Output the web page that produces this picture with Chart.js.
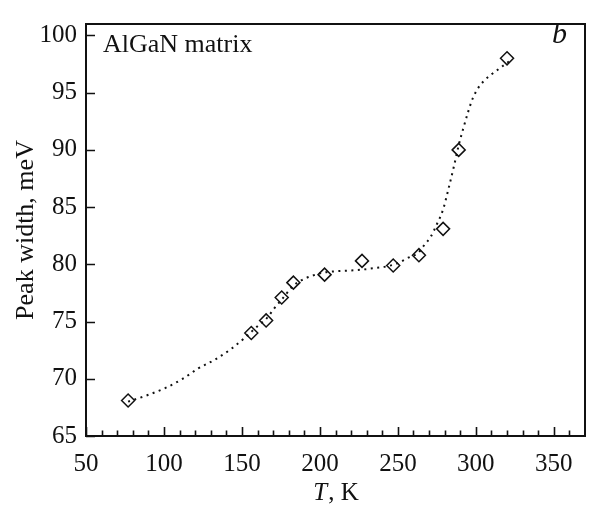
<!DOCTYPE html>
<html>
<head>
<meta charset="utf-8">
<script src="https://cdn.jsdelivr.net/npm/chart.js@4.4.1/dist/chart.umd.min.js"></script>
<style>
html,body{margin:0;padding:0;background:#fff;}
#wrap{width:593px;height:506px;position:relative;}
</style>
</head>
<body>
<div id="wrap"><canvas id="c" width="593" height="506"></canvas></div>
<script>
// Measured points (diamonds)
const tempK = [77, 156, 165.5, 175.5, 183, 203, 227, 247, 263.5, 279, 289, 320];
const peakWidth = [68.1, 74.0, 75.1, 77.1, 78.4, 79.1, 80.3, 79.9, 80.8, 83.1, 90.0, 98.0];
// Dotted guide curve
const curveT = [77, 90, 101, 112, 122, 133, 143, 152, 160, 166, 171, 176, 182, 188, 195, 203, 211, 224, 234, 242, 250, 257, 263, 267, 271, 275, 279, 283, 286, 289, 292, 295, 298, 301, 305, 310, 315, 319, 322];
const curveW = [68.0, 68.6, 69.2, 70.0, 70.9, 71.7, 72.6, 73.6, 74.6, 75.3, 76.2, 77.0, 78.0, 78.6, 79.0, 79.3, 79.4, 79.5, 79.65, 79.8, 80.1, 80.6, 81.0, 81.7, 82.4, 83.5, 84.8, 86.9, 88.6, 90.4, 91.9, 93.3, 94.5, 95.3, 96.0, 96.6, 97.1, 97.5, 97.8];
const xTicks = [50, 100, 150, 200, 250, 300, 350];
const xMinorTicks = [60,70,80,90,110,120,130,140,160,170,180,190,210,220,230,240,260,270,280,290,310,320,330,340,360];
const yTicks = [65, 70, 75, 80, 85, 90, 95, 100];
const xTitleItalic = 'T';
const xTitleRest = ', K';
const yTitle = 'Peak width, meV';
const innerLabel = 'AlGaN matrix';
const panelLabel = 'b';

const SERIF = '"Liberation Serif", "DejaVu Serif", serif';

const framePlugin = {
  id: 'framePlugin',
  afterDraw(chart) {
    const {ctx, chartArea: a, scales} = chart;
    const xs = scales.x, ys = scales.y;
    ctx.save();
    ctx.strokeStyle = '#111';
    ctx.lineWidth = 2;
    ctx.strokeRect(a.left, a.top, a.right - a.left, a.bottom - a.top);
    ctx.lineWidth = 1.6;
    ctx.beginPath();
    xTicks.forEach(v => {
      const px = Math.round(xs.getPixelForValue(v)) + 0.5;
      ctx.moveTo(px, a.bottom); ctx.lineTo(px, a.bottom - 9);
    });
    xMinorTicks.forEach(v => {
      const px = Math.round(xs.getPixelForValue(v)) + 0.5;
      ctx.moveTo(px, a.bottom); ctx.lineTo(px, a.bottom - 5.5);
    });
    yTicks.forEach(v => {
      const py = Math.round(ys.getPixelForValue(v)) + 0.5;
      ctx.moveTo(a.left, py); ctx.lineTo(a.left + 9, py);
    });
    ctx.stroke();
    // texts
    ctx.fillStyle = '#111';
    ctx.textBaseline = 'alphabetic';
    ctx.textAlign = 'left';
    ctx.font = '26px ' + SERIF;
    ctx.fillText(innerLabel, 103, 52);
    ctx.font = 'italic 30px ' + SERIF;
    ctx.fillText(panelLabel, 552, 43);
    // x title
    ctx.font = 'italic 25px ' + SERIF;
    const w1 = ctx.measureText(xTitleItalic).width;
    ctx.font = '25px ' + SERIF;
    const w2 = ctx.measureText(xTitleRest).width;
    const cx = (a.left + a.right) / 2;
    let sx = cx - (w1 + w2) / 2;
    ctx.font = 'italic 25px ' + SERIF;
    ctx.fillText(xTitleItalic, sx, 500);
    ctx.font = '25px ' + SERIF;
    ctx.fillText(xTitleRest, sx + w1 + 1, 500);
    // y title
    ctx.save();
    ctx.translate(33, (a.top + a.bottom) / 2);
    ctx.rotate(-Math.PI / 2);
    ctx.textAlign = 'center';
    ctx.font = '26px ' + SERIF;
    ctx.fillText(yTitle, 0, 0);
    ctx.restore();
    ctx.restore();
  }
};

new Chart(document.getElementById('c'), {
  type: 'scatter',
  data: {
    datasets: [
      {
        type: 'line',
        data: curveT.map((t, i) => ({x: t, y: curveW[i]})),
        borderColor: '#111',
        borderWidth: 2,
        borderDash: [2, 4.5],
        pointRadius: 0,
        fill: false,
        cubicInterpolationMode: 'monotone',
        order: 2
      },
      {
        data: tempK.map((t, i) => ({x: t, y: peakWidth[i]})),
        pointStyle: 'rectRot',
        pointRadius: 6.5,
        pointBorderWidth: 1.5,
        borderColor: '#111',
        backgroundColor: 'rgba(255,255,255,0)',
        showLine: false,
        order: 1
      }
    ]
  },
  options: {
    responsive: false,
    animation: false,
    devicePixelRatio: 1,
    layout: {padding: {top: 13, right: 2, left: 0, bottom: 0}},
    plugins: {legend: {display: false}, tooltip: {enabled: false}},
    scales: {
      x: {
        type: 'linear', min: 50, max: 370,
        grid: {display: false, drawTicks: false},
        border: {display: false},
        ticks: {stepSize: 50, padding: 13, color: '#111', font: {family: SERIF, size: 25}, maxRotation: 0},
        afterBuildTicks(s) { s.ticks = xTicks.map(v => ({value: v})); },
        afterFit(s) { s.height = 70; }
      },
      y: {
        type: 'linear', min: 65, max: 101,
        grid: {display: false, drawTicks: false},
        border: {display: false},
        ticks: {stepSize: 5, padding: 9, color: '#111', font: {family: SERIF, size: 25}},
        afterBuildTicks(s) { s.ticks = yTicks.map(v => ({value: v})); },
        afterFit(s) { s.width = 86; }
      }
    }
  },
  plugins: [framePlugin]
});
</script>
</body>
</html>
